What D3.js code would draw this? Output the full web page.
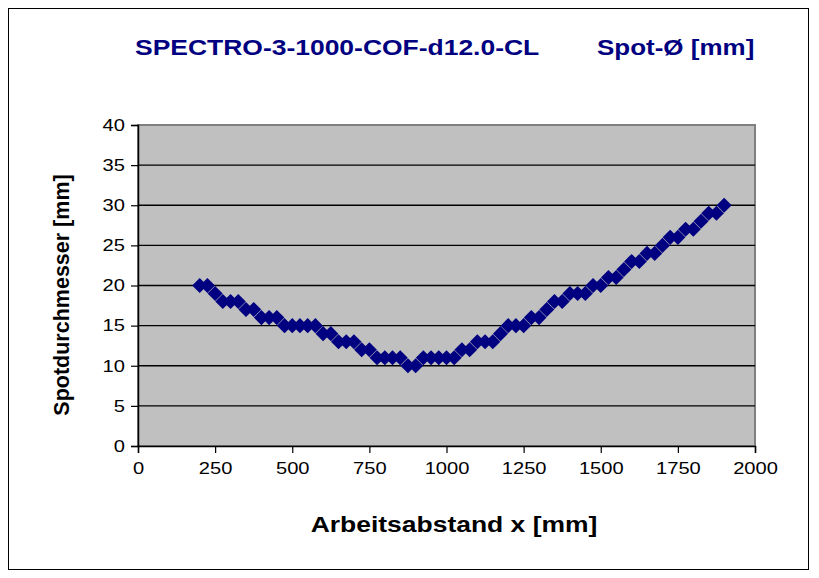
<!DOCTYPE html>
<html><head><meta charset="utf-8">
<script src="https://cdn.jsdelivr.net/npm/d3@7"></script>
<style>
body{margin:0;background:#fff;}
svg{display:block;font-family:"Liberation Sans",Arial,sans-serif;}
</style></head><body>
<script>
const titleMain = "SPECTRO-3-1000-COF-d12.0-CL";
const titleUnit = "Spot-Ø [mm]";
const xTitle = "Arbeitsabstand x [mm]";
const yTitle = "Spotdurchmesser [mm]";
const xTicks = [0,250,500,750,1000,1250,1500,1750,2000];
const yTicks = [0,5,10,15,20,25,30,35,40];
const distance = [200,225,250,275,300,325,350,375,400,425,450,475,500,525,550,575,600,625,650,675,700,725,750,775,800,825,850,875,900,925,950,975,1000,1025,1050,1075,1100,1125,1150,1175,1200,1225,1250,1275,1300,1325,1350,1375,1400,1425,1450,1475,1500,1525,1550,1575,1600,1625,1650,1675,1700,1725,1750,1775,1800,1825,1850,1875,1900];
const spot = [20,20,19,18,18,18,17,17,16,16,16,15,15,15,15,15,14,14,13,13,13,12,12,11,11,11,11,10,10,11,11,11,11,11,12,12,13,13,13,14,15,15,15,16,16,17,18,18,19,19,19,20,20,21,21,22,23,23,24,24,25,26,26,27,27,28,29,29,30];

const W=819,H=578;
const svg=d3.select("body").append("svg").attr("width",W).attr("height",H);
const L=138,R=755,T=125,B=446;
const SX=1.22;
const x=d3.scaleLinear().domain([0,2000]).range([L,R]);
const y=d3.scaleLinear().domain([0,40]).range([B,T]);

svg.append("rect").attr("x",8.5).attr("y",8.5).attr("width",800).attr("height",561)
  .attr("fill","#fff").attr("stroke","#000").attr("stroke-width",1);

// plot area
svg.append("rect").attr("x",L).attr("y",T).attr("width",R-L).attr("height",B-T)
  .attr("fill","#c0c0c0").attr("stroke","#808080").attr("stroke-width",2);

// gridlines
svg.append("g").selectAll("line").data(yTicks.filter(d=>d>0&&d<40)).join("line")
  .attr("x1",L).attr("x2",R).attr("y1",d=>y(d)).attr("y2",d=>y(d))
  .attr("stroke","#000").attr("stroke-width",1.3);

// axes
const gx=svg.append("g").attr("transform",`translate(0,${B})`)
  .call(d3.axisBottom(x).tickValues(xTicks).tickSize(7).tickPadding(9).tickFormat(d3.format("d")));
const gy=svg.append("g").attr("transform",`translate(${L},0)`)
  .call(d3.axisLeft(y).tickValues(yTicks).tickSize(7).tickPadding(6).tickFormat(d3.format("d")));
[gx,gy].forEach(g=>{
  g.select(".domain").attr("stroke","#000").attr("stroke-width",1.5);
  g.selectAll(".tick line").attr("stroke","#000").attr("stroke-width",1.2);
  g.selectAll("text").attr("font-size",16.5).attr("fill","#000").attr("font-family","Liberation Sans, Arial, sans-serif");
});
gx.selectAll(".tick text").attr("transform",`scale(${SX},1)`);
gy.selectAll(".tick text").each(function(){
  const t=d3.select(this); const xx=+t.attr("x");
  t.attr("transform",`translate(${xx},0) scale(${SX},1)`).attr("x",0);
});

// markers
const diamond=d3.symbol().type(d3.symbolDiamond2).size(145);
svg.append("g").selectAll("path").data(distance.map((d,i)=>[d,spot[i]])).join("path")
  .attr("transform",d=>`translate(${x(d[0])},${y(d[1])})`)
  .attr("d",diamond).attr("fill","#000080");

// titles
function htext(str,xx,yy,size,anchor,col){
  svg.append("text").attr("transform",`translate(${xx},${yy}) scale(${SX},1)`)
    .attr("text-anchor",anchor).attr("font-size",size).attr("font-weight","bold")
    .attr("fill",col).text(str);
}
htext(titleMain,135,55,21.7,"start","#000080");
htext(titleUnit,597,55,21.3,"start","#000080");
htext(xTitle,454,532,21.7,"middle","#000");
svg.append("text").attr("transform",`translate(69,295) rotate(-90)`)
  .attr("text-anchor","middle").attr("font-size",21.5).attr("font-weight","bold")
  .attr("fill","#000").text(yTitle);
</script>
</body></html>
